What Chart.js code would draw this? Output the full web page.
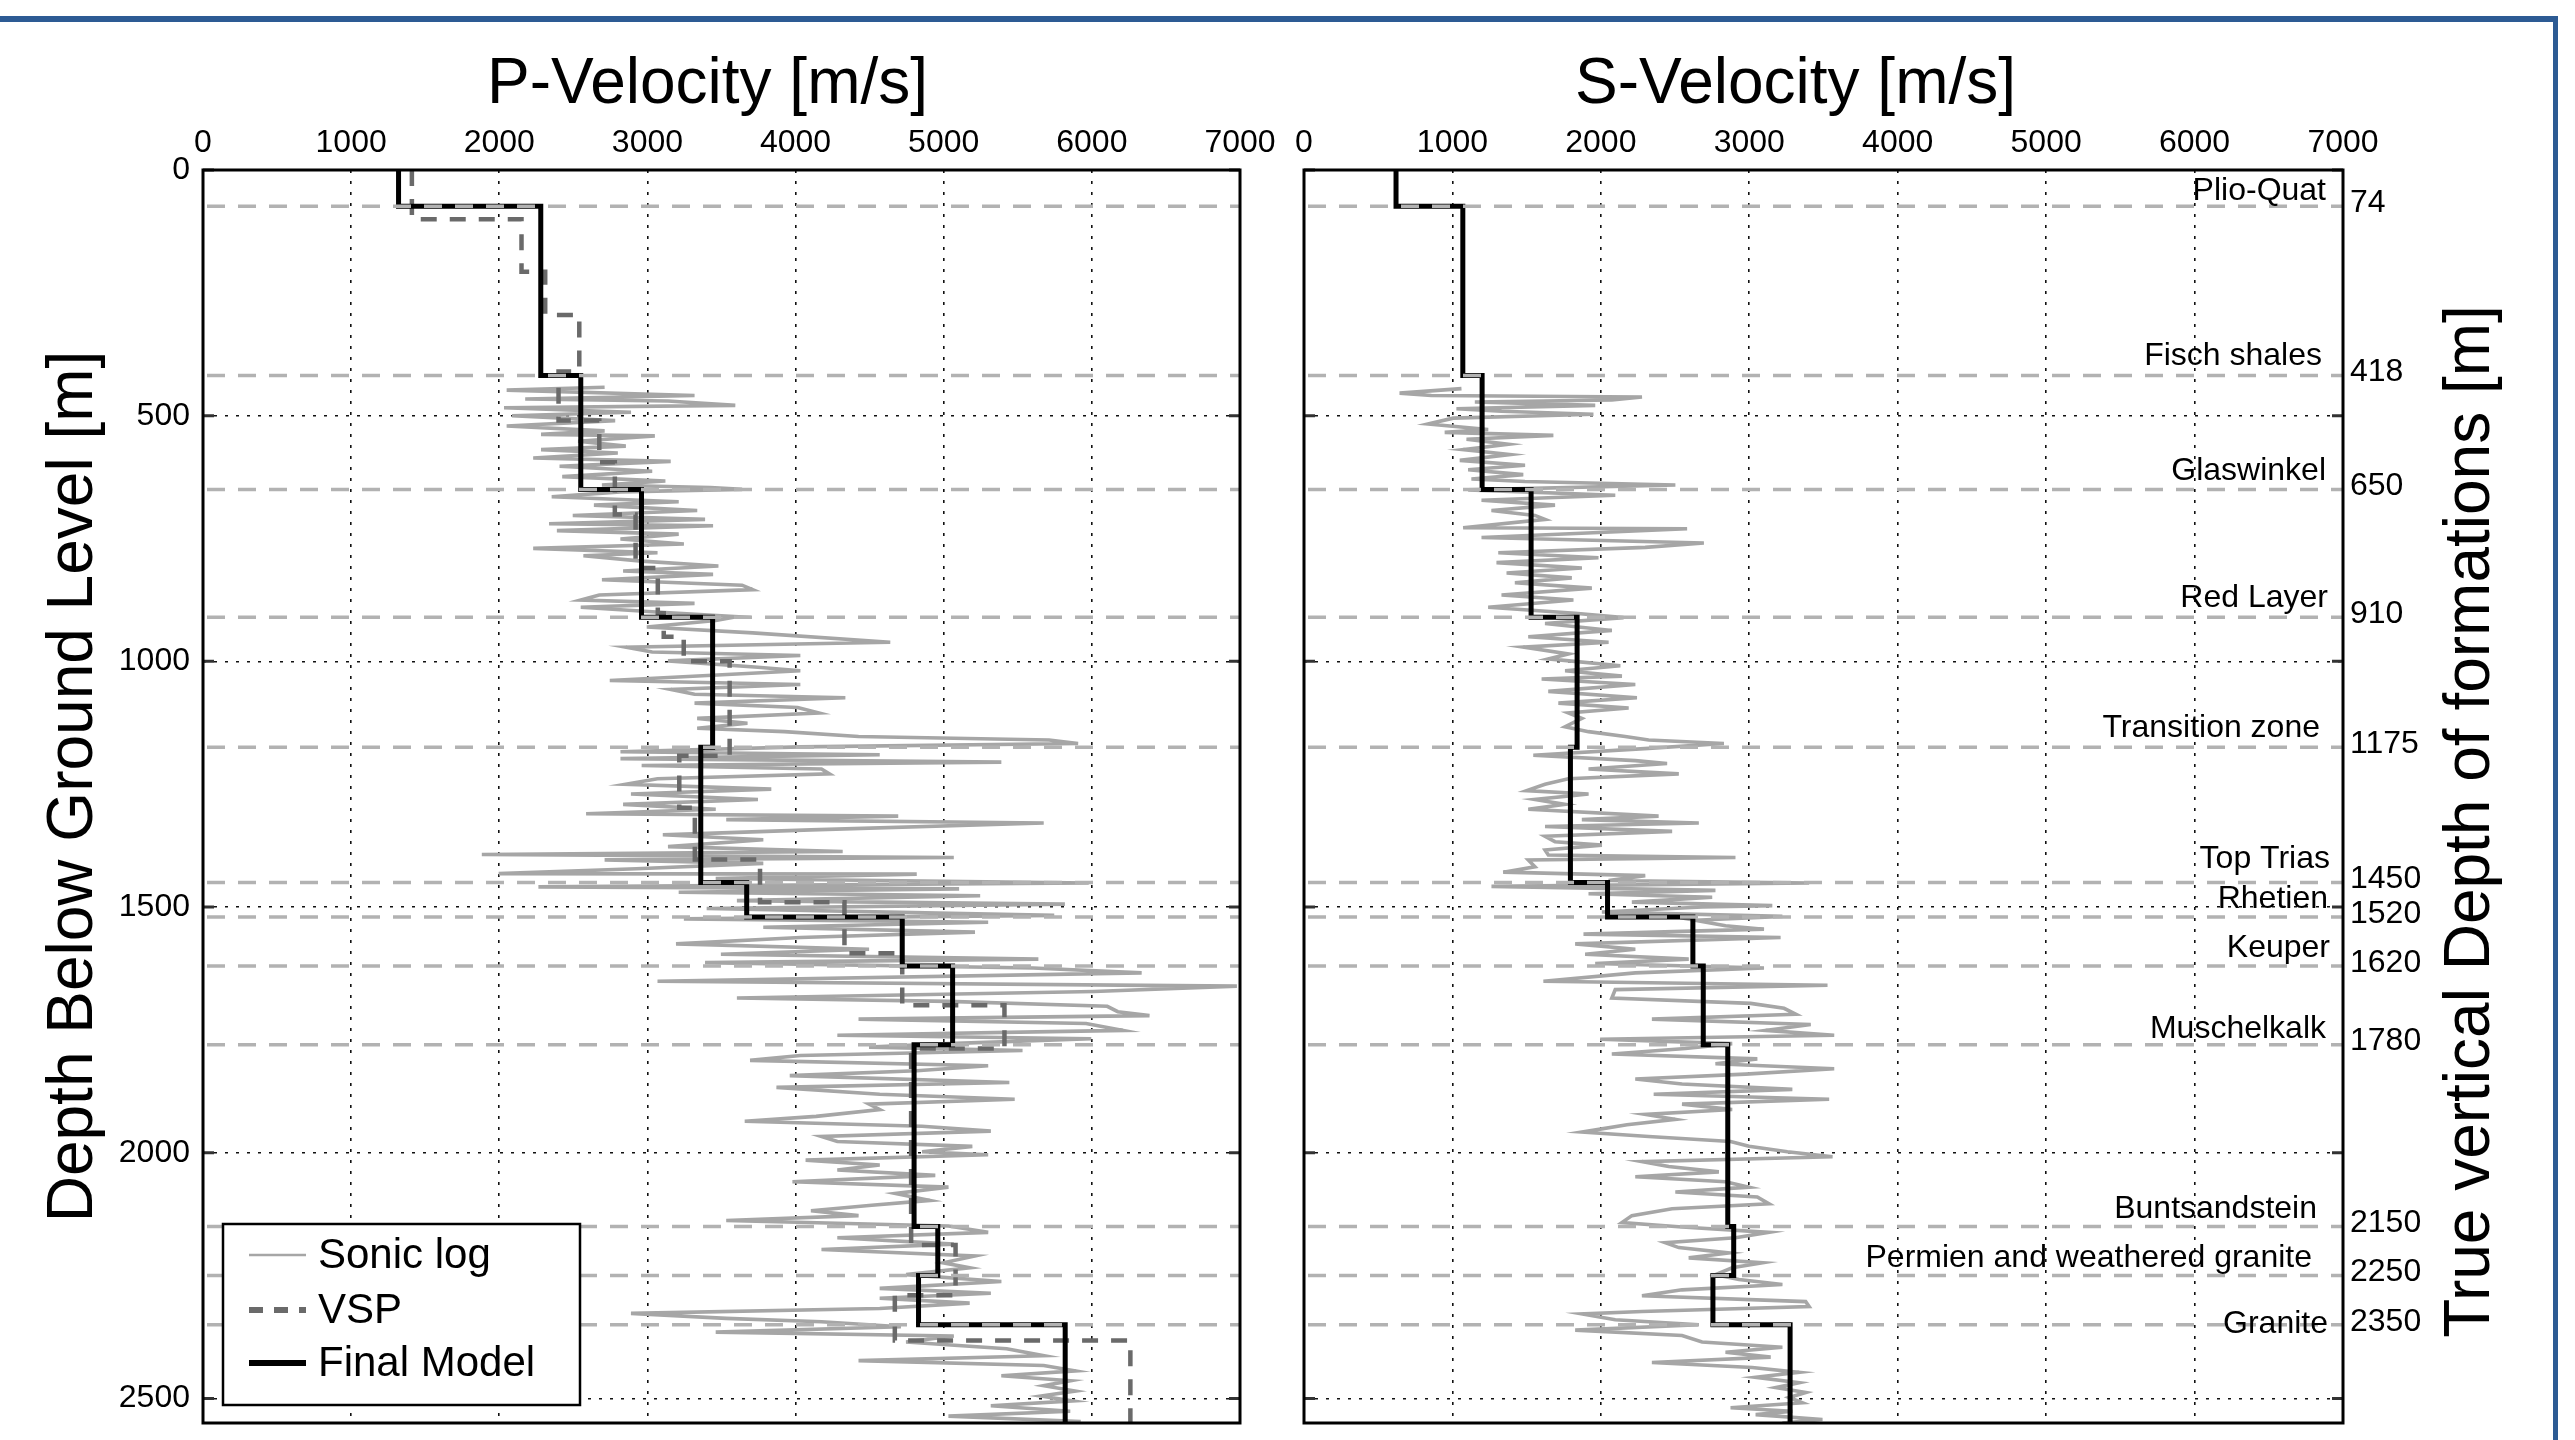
<!DOCTYPE html>
<html>
<head>
<meta charset="utf-8">
<script src="https://cdn.jsdelivr.net/npm/chart.js@4.4.1/dist/chart.umd.min.js"></script>
<style>
  html, body { margin:0; padding:0; background:#fff; }
  body { width:2575px; height:1440px; position:relative; overflow:hidden; }
  #frame { position:absolute; left:-30px; top:16px; width:2588px; height:1500px; box-sizing:border-box;
           border-top:6px solid #2d5b94; border-right:5px solid #2d5b94; }
  .wrap { position:absolute; top:0; }
  canvas { display:block; }
</style>
</head>
<body>
<div id="frame"></div>
<div class="wrap" style="left:0;width:1290px;height:1470px"><canvas id="cp" width="1290" height="1470"></canvas></div>
<div class="wrap" style="left:1275px;width:1300px;height:1470px"><canvas id="cs" width="1300" height="1470"></canvas></div>
<script>
// ---------------- data ----------------
const velocityTicks = [0, 1000, 2000, 3000, 4000, 5000, 6000, 7000];
const depthTicks = [0, 500, 1000, 1500, 2000, 2500];
const maxDepth = 2550;

const formationNames = ['Plio-Quat', 'Fisch shales', 'Glaswinkel', 'Red Layer', 'Transition zone', 'Top Trias',
  'Rhetien', 'Keuper', 'Muschelkalk', 'Buntsandstein', 'Permien and weathered granite', 'Granite'];
const formationDepths = [74, 418, 650, 910, 1175, 1450, 1520, 1620, 1780, 2150, 2250, 2350];

const modelTops = [0, 74, 418, 650, 910, 1175, 1450, 1520, 1620, 1780, 2150, 2250, 2350];
const modelVp = [1320, 2280, 2550, 2960, 3440, 3360, 3670, 4720, 5060, 4800, 4960, 4830, 5820];
const modelVs = [620, 1070, 1200, 1530, 1840, 1795, 2045, 2620, 2690, 2855, 2895, 2755, 3275];

const vspTops = [0, 100, 207, 295, 410, 510, 595, 701, 810, 902, 950, 1000, 1192, 1298, 1403, 1490, 1594, 1700, 1788, 2188, 2290, 2382];
const vspVp = [1410, 2150, 2310, 2540, 2400, 2675, 2780, 2920, 3070, 3110, 3245, 3555, 3215, 3320, 3760, 4330, 4720, 5410, 4780, 5080, 4670, 6260];

const sonicDepthP = [442,448,459,466,470,479,484,493,500,510,521,531,538,541,552,562,569,576,586,593,
  603,613,624,633,641,646,650,655,665,675,682,693,703,711,720,724,734,741,751,761,
  770,779,785,796,806,816,823,834,845,854,865,875,882,890,899,909,917,930,942,961,
  971,981,988,999,1012,1019,1039,1047,1057,1067,1074,1085,1094,1105,1116,1126,1136,1143,1153,1160,
  1167,1174,1184,1190,1198,1205,1212,1219,1229,1239,1250,1260,1270,1281,1291,1301,1310,1315,1322,1329,
  1343,1353,1363,1377,1387,1393,1399,1404,1411,1422,1432,1433,1442,1451,1459,1463,1470,1477,1487,1494,
  1503,1517,1524,1531,1541,1551,1562,1575,1586,1596,1606,1613,1624,1634,1651,1661,1672,1685,1692,1702,
  1713,1721,1728,1737,1751,1761,1768,1778,1785,1792,1802,1812,1823,1833,1843,1857,1867,1881,1891,1901,
  1912,1926,1936,1946,1956,1967,1977,1987,1998,2004,2015,2025,2035,2046,2059,2070,2083,2097,2107,2118,
  2128,2138,2149,2162,2173,2186,2197,2210,2224,2234,2248,2262,2276,2286,2296,2306,2317,2327,2337,2344,
  2354,2365,2373,2385,2399,2413,2423,2433,2444,2454,2464,2474,2485,2495,2505,2515,2526,2536,2547];
const sonicVp = [2711,2050,3318,2175,3139,3593,2032,2889,2086,2782,2050,2711,2282,3050,2532,2854,2282,2800,2229,3157,
  2407,3032,2425,3121,2693,3425,3639,2818,2354,3211,2639,3336,2496,3389,2336,3443,2389,3211,2818,3246,
  2229,3068,2568,2961,3479,2836,3443,2693,3639,3711,2675,2550,3318,2550,3032,3604,3461,2996,3711,4639,
  2854,3032,4032,3139,3746,4032,2746,4032,3157,3318,4336,3318,4014,4157,3336,3675,3336,3925,4425,5711,
  5907,4032,2818,4568,2818,5389,2961,4175,4229,3068,2854,3836,2889,3746,2836,3461,2586,4693,3532,5675,
  4104,3104,3782,3139,4318,1882,5068,2711,3782,2925,1996,4818,3461,5979,2264,5104,3211,5246,3604,5818,
  3400,5746,3246,5300,3782,5211,4032,3193,4496,3496,5639,3389,5604,6336,3068,6979,6014,3604,5032,6104,
  6175,6389,4425,5961,6211,4282,5996,5032,4496,5532,4032,3693,5300,4818,3961,5443,3871,4568,5479,4496,
  4568,4139,3657,4854,5318,4175,4282,5193,4854,5300,4068,4568,4282,4943,3979,5032,4675,4907,4514,4104,
  4425,3532,5032,5300,4282,5068,4175,5211,4996,5175,4746,5389,4568,5318,4568,5175,4568,2889,3532,4175,
  4711,3461,5068,4746,5425,5675,4425,5675,5889,5389,5854,5675,5889,5657,5871,5318,5854,5032,5925];

const sonicDepthS = [445,454,459,462,468,472,479,486,491,497,505,517,528,534,540,548,558,569,579,591,
  601,610,620,629,634,641,651,662,672,682,693,703,711,728,730,748,759,768,779,789,
  799,810,820,830,840,851,865,875,890,902,911,923,937,950,961,971,985,995,1009,1019,
  1030,1036,1047,1061,1074,1085,1095,1105,1116,1133,1143,1153,1160,1167,1177,1191,1202,1208,1219,1229,
  1239,1250,1263,1270,1281,1291,1301,1315,1322,1329,1336,1346,1356,1367,1374,1384,1394,1399,1404,1418,
  1429,1436,1446,1451,1458,1466,1473,1480,1490,1497,1500,1510,1519,1527,1538,1545,1555,1562,1575,1586,
  1596,1606,1615,1624,1634,1651,1659,1668,1685,1696,1706,1718,1728,1739,1751,1761,1769,1778,1788,1799,
  1809,1819,1829,1840,1850,1860,1871,1881,1891,1901,1912,1922,1932,1943,1958,1967,1977,1987,1998,2008,
  2018,2028,2039,2049,2059,2070,2080,2090,2104,2114,2128,2142,2151,2162,2173,2183,2193,2204,2214,2224,
  2234,2248,2258,2268,2279,2291,2303,2313,2323,2328,2340,2350,2361,2372,2385,2396,2406,2416,2427,2437,
  2447,2457,2468,2478,2488,2498,2509,2519,2526,2533,2543,2550];
const sonicVs = [1061,644,858,2277,2074,1151,1962,1027,1331,1950,1005,836,1241,948,1680,1095,1376,1072,1387,1050,
  1489,1106,1477,1128,1489,2502,1106,2097,1196,1691,1263,1556,1624,1072,2581,1196,2694,2299,1309,1984,
  1297,1872,1365,1804,1421,1939,1331,1815,1241,1826,2153,1624,2074,1511,2052,1477,1781,1646,2131,1759,
  2142,1601,2232,1646,2243,1714,2187,1781,1872,1759,1917,2164,2322,2829,2322,1545,2232,2446,1917,2525,
  1781,1624,1500,1917,1556,1759,1511,2389,1872,2660,1624,2480,1624,1691,2007,1624,1646,2907,1511,1556,
  1342,2299,2052,3403,1263,2772,1917,2750,2209,3155,2682,2007,3223,2637,2840,3099,1883,3211,1827,2232,
  1894,2592,1962,3099,2232,1613,3527,2097,2074,3009,3234,3313,2344,3414,3110,3572,1995,2885,2570,2074,
  3054,2772,3572,2975,2232,2547,3290,2356,3538,2547,2885,2299,2502,2176,1872,2322,2874,2998,3257,3561,
  2277,2457,2795,2232,2840,2998,2502,3054,3133,2480,2209,2142,2547,3133,2907,2434,2525,2862,2592,3088,
  2885,2772,2930,3223,2547,2277,3380,3403,2277,1872,2097,2660,1827,2547,2682,3223,2840,3144,2344,3020,
  3335,3043,3335,3178,3380,3268,3358,2874,3290,3043,3493,3223];

// ---------------- styles ----------------
const FONT = '"Liberation Sans", Arial, Helvetica, sans-serif';
Chart.defaults.font.family = FONT;
const labelNudge = [ // right inset and baseline offset of each formation name, px
  [17,-6],[21,-10],[17,-9],[15,-10],[23,-10],[13,-14],[15,-9],[13,-9],[17,-7],[26,-8],[31,-9],[15,8]];

// ---------------- helpers ----------------
const stepPoints = (tops, vals) => {
  const pts = tops.map((t, i) => ({ x: vals[i], y: t }));
  pts.push({ x: vals[vals.length - 1], y: maxDepth });
  return pts;
};
const logPoints = (depths, vals) => depths.map((d, i) => ({ x: vals[i], y: d }));

function sonicDS(depths, vals) {
  return { label: 'Sonic log', data: logPoints(depths, vals), showLine: true, borderColor: '#a6a6a6',
    borderWidth: 3.6, borderJoinStyle: 'miter', pointRadius: 0, order: 3, xAxisID: 'x', yAxisID: 'y' };
}
function vspDS() {
  return { label: 'VSP', data: stepPoints(vspTops, vspVp), showLine: true, stepped: 'after', borderColor: '#6a6a6a',
    borderWidth: 4.5, borderDash: [16, 13], pointRadius: 0, order: 2, xAxisID: 'x', yAxisID: 'y' };
}
function modelDS(vals) {
  return { label: 'Final Model', data: stepPoints(modelTops, vals), showLine: true, stepped: 'after', borderColor: '#000',
    borderWidth: 5, pointRadius: 0, order: 1, xAxisID: 'x', yAxisID: 'y' };
}

function xAxis() {
  return {
    type: 'linear', position: 'top', min: 0, max: 7000,
    afterBuildTicks: s => { s.ticks = velocityTicks.map(v => ({ value: v })); },
    ticks: { font: { size: 32 }, color: '#000', padding: 8, maxRotation: 0, autoSkip: false, callback: v => String(v) },
    grid: { color: '#111', lineWidth: 1.6, drawTicks: false },
    border: { display: false, dash: [3, 8] },
    afterFit: s => { s.height = 60; }
  };
}
function yAxis(showLabels, width) {
  return {
    type: 'linear', position: 'left', reverse: true, min: 0, max: maxDepth,
    afterBuildTicks: s => { s.ticks = depthTicks.map(v => ({ value: v })); },
    ticks: { display: showLabels, font: { size: 32 }, color: '#000', padding: showLabels ? 13 : 0, autoSkip: false, callback: v => String(v) },
    grid: { color: '#111', lineWidth: 1.6, drawTicks: false },
    border: { display: false, dash: [3, 8] },
    afterFit: s => { s.width = width; }
  };
}

function drawFormationLines(chart) {
  const { ctx, chartArea: a, scales: { y } } = chart;
  ctx.save();
  ctx.beginPath(); ctx.rect(a.left, a.top, a.right - a.left, a.bottom - a.top); ctx.clip();
  ctx.strokeStyle = '#b2b2b2'; ctx.lineWidth = 3.5; ctx.setLineDash([18, 13]);
  formationDepths.forEach(d => {
    const py = y.getPixelForValue(d);
    ctx.beginPath(); ctx.moveTo(a.left + 4, py); ctx.lineTo(a.right, py); ctx.stroke();
  });
  ctx.restore();
}
function drawBox(chart) {
  const { ctx, chartArea: a, scales: { y } } = chart;
  ctx.save();
  ctx.setLineDash([]);
  ctx.strokeStyle = '#333'; ctx.lineWidth = 3;
  depthTicks.forEach(d => {
    const py = y.getPixelForValue(d);
    ctx.beginPath();
    ctx.moveTo(a.left, py); ctx.lineTo(a.left + 11, py);
    ctx.moveTo(a.right - 11, py); ctx.lineTo(a.right, py);
    ctx.stroke();
  });
  ctx.strokeStyle = '#000'; ctx.lineWidth = 3;
  ctx.strokeRect(a.left, a.top, a.right - a.left, a.bottom - a.top);
  ctx.restore();
}
function drawText(ctx, str, x, y, size, align, baseline, rot) {
  ctx.save();
  ctx.translate(x, y);
  if (rot) ctx.rotate(rot);
  ctx.font = size + 'px ' + FONT;
  ctx.fillStyle = '#000';
  ctx.textAlign = align; ctx.textBaseline = baseline;
  ctx.fillText(str, 0, 0);
  ctx.restore();
}
function drawLegend(chart) {
  const { ctx, chartArea: a } = chart;
  const bx = a.left + 20, bw = 357, bh = 181, by = a.bottom - 18 - bh;
  ctx.save();
  ctx.fillStyle = '#fff'; ctx.fillRect(bx, by, bw, bh);
  ctx.setLineDash([]); ctx.lineWidth = 2.5; ctx.strokeStyle = '#000'; ctx.strokeRect(bx, by, bw, bh);
  const rows = [31, 86, 139];
  const samples = { 'Sonic log': [2.6, []], 'VSP': [6, [14, 11]], 'Final Model': [6, []] };
  chart.data.datasets.forEach((ds, i) => {
    const yy = by + rows[i];
    const s = samples[ds.label];
    ctx.save();
    ctx.strokeStyle = ds.borderColor; ctx.lineWidth = s[0]; ctx.setLineDash(s[1]);
    ctx.beginPath(); ctx.moveTo(bx + 26, yy); ctx.lineTo(bx + 83, yy); ctx.stroke();
    ctx.restore();
    drawText(ctx, ds.label, bx + 95, yy + 1, 42, 'left', 'middle');
  });
  ctx.restore();
}

const commonOpts = (scales, padding) => ({
  responsive: false, animation: false, devicePixelRatio: 1,
  layout: { padding },
  plugins: { legend: { display: false }, tooltip: { enabled: false }, title: { display: false } },
  scales
});

// ---------------- P-velocity chart ----------------
new Chart(document.getElementById('cp'), {
  type: 'scatter',
  data: { datasets: [sonicDS(sonicDepthP, sonicVp), vspDS(), modelDS(modelVp)] },
  options: commonOpts({ x: xAxis(), y: yAxis(true, 203) }, { left: 0, top: 110, right: 50, bottom: 47 }),
  plugins: [{
    id: 'pDecor',
    afterDatasetsDraw(chart) { drawFormationLines(chart); },
    afterDraw(chart) {
      const a = chart.chartArea;
      drawBox(chart);
      drawLegend(chart);
      drawText(chart.ctx, 'P-Velocity [m/s]', (a.left + a.right) / 2 - 14, 103, 64, 'center', 'alphabetic');
      drawText(chart.ctx, 'Depth Below Ground Level [m]', 74, (a.top + a.bottom) / 2 - 10, 64, 'center', 'middle', -Math.PI / 2);
    }
  }]
});

// ---------------- S-velocity chart ----------------
new Chart(document.getElementById('cs'), {
  type: 'scatter',
  data: { datasets: [sonicDS(sonicDepthS, sonicVs), modelDS(modelVs)] },
  options: commonOpts({
    x: xAxis(),
    y: yAxis(false, 29),
    y2: {
      type: 'linear', position: 'right', reverse: true, min: 0, max: maxDepth,
      afterBuildTicks: s => { s.ticks = formationDepths.map(v => ({ value: v })); },
      ticks: { font: { size: 32 }, color: '#000', padding: 7, labelOffset: -3, autoSkip: false, callback: v => String(v) },
      grid: { display: false, drawTicks: false },
      border: { display: false },
      afterFit: s => { s.width = 232; }
    }
  }, { left: 0, top: 110, right: 0, bottom: 47 }),
  plugins: [{
    id: 'sDecor',
    afterDatasetsDraw(chart) { drawFormationLines(chart); },
    afterDraw(chart) {
      const a = chart.chartArea, ctx = chart.ctx, y = chart.scales.y;
      drawBox(chart);
      formationNames.forEach((n, i) => {
        const py = y.getPixelForValue(formationDepths[i]);
        drawText(ctx, n, a.right - labelNudge[i][0], py + labelNudge[i][1], 32, 'right', 'alphabetic');
      });
      drawText(ctx, 'S-Velocity [m/s]', (a.left + a.right) / 2 - 28, 103, 64, 'center', 'alphabetic');
      drawText(ctx, 'True vertical Depth of formations [m]', 1196, (a.top + a.bottom) / 2 + 25, 64, 'center', 'middle', -Math.PI / 2);
    }
  }]
});
</script>
</body>
</html>
